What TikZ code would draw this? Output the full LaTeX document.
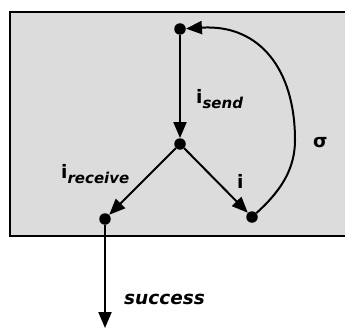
\documentclass[tikz,border=0pt]{standalone}
\usepackage{fontspec}
\setmainfont{DejaVu Sans}
\usetikzlibrary{arrows.meta}
\definecolor{panelgray}{RGB}{220,220,220}
\newcommand{\subtxt}[1]{\raisebox{-5pt}{\fontsize{15}{16}\selectfont\bfseries\itshape #1}}
\tikzset{
  dot/.style={circle,fill=black,inner sep=0pt,minimum size=11.5pt},
  flow/.style={line width=2pt,-{Triangle[length=16pt,width=13pt]}},
  lbl/.style={inner sep=0pt,anchor=base west,font=\fontsize{18.5}{20}\selectfont\bfseries}
}
\begin{document}
\begin{tikzpicture}[x=1pt,y=-1pt]
  \useasboundingbox (0,0) rectangle (345,329);
  \clip (0,0) rectangle (345,329);
  % shaded panel
  \draw[fill=panelgray,line width=2.5pt] (10,12) rectangle (360,236);
  % states
  \node[dot] (top) at (180,29) {};
  \node[dot] (mid) at (180,144) {};
  \node[dot] (lb) at (105,219) {};
  \node[dot] (rb) at (252,217) {};
  \coordinate (out) at (105,328);
  % transitions
  \draw[flow] (top) -- (mid);
  \draw[flow] (mid) -- (lb);
  \draw[flow] (mid) -- (rb);
  \draw[flow] (rb) .. controls (282,190) and (295,168) .. (295,140)
                   .. controls (295,70) and (260,24) .. (top);
  \draw[flow] (lb) -- (out);
  % labels
  \node[lbl] (lsend) at (196,103) {i\subtxt{send}};
  \node[lbl] (lrecv) at (61,178) {i\subtxt{receive}};
  \node[lbl] (li) at (237,188) {i};
  \node[lbl] (lsigma) at (313,147) {σ};
  \node[lbl,font=\fontsize{18.5}{20}\selectfont\bfseries\itshape] (lsucc) at (124,304) {success};
\end{tikzpicture}
\end{document}
